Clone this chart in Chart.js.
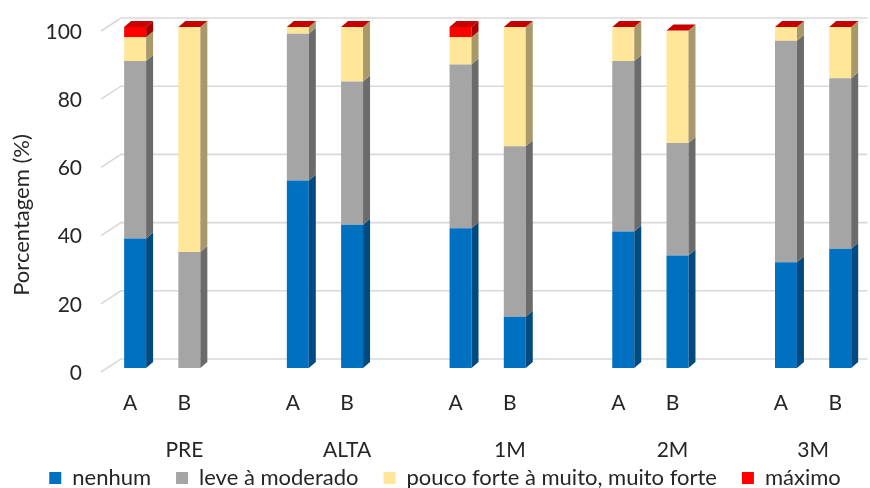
<!DOCTYPE html>
<html>
<head>
<meta charset="utf-8">
<script src="https://cdn.jsdelivr.net/npm/chart.js@4.4.1/dist/chart.umd.min.js"></script>
<style>
  html, body { margin: 0; padding: 0; background: #ffffff; }
  #wrap { width: 870px; height: 488px; }
</style>
</head>
<body>
<div id="wrap"><canvas id="chart" width="870" height="488"></canvas></div>
<script>
// Time points and the two arms measured at each one
const groups = ['PRE', 'ALTA', '1M', '2M', '3M'];
const arms = ['A', 'B'];

// Percentages per bar, ordered PRE A, PRE B, ALTA A, ALTA B, ... 3M B
const nenhum  = [38, 0, 55, 42, 41, 15, 40, 33, 31, 35];
const leve    = [52, 34, 43, 42, 48, 50, 50, 33, 65, 50];
const pouco   = [7, 66, 2, 16, 8, 35, 10, 33, 4, 15];
const maximo  = [3, 0, 0, 0, 3, 0, 0, 0, 0, 0];

const seriesNames = ['nenhum', 'leve à moderado', 'pouco forte à muito, muito forte', 'máximo'];
const yTicks = [0, 20, 40, 60, 80, 100];
const yTitle = 'Porcentagem (%)';

// Colours: front face, side face
const frontColors = ['#0070C0', '#A5A5A5', '#FFE699', '#FF0000'];
const sideColors  = ['#004A80', '#6B6B6B', '#A8996A', '#A80000'];
const topColor    = '#C80000';
const textColor   = '#262626';
const FONT = 'Lato, "Open Sans", sans-serif';

// One category slot per bar, with an empty slot between time points
const slotLabels = [];
const groupOfSlot = [];
groups.forEach((g, gi) => {
  arms.forEach(a => { slotLabels.push(a); groupOfSlot.push(gi); });
  if (gi < groups.length - 1) { slotLabels.push(''); groupOfSlot.push(-1); }
});
function spread(values) {
  const out = [];
  let k = 0;
  groupOfSlot.forEach(g => { out.push(g < 0 ? null : values[k++]); });
  return out;
}

const DX = 7, DY = 6;        // bar depth
const WX = 20, WY = 13;      // wall depth for the grid
const LABEL_SHIFT = -5;      // category captions sit slightly left of the bar fronts

const depthPlugin = {
  id: 'depth3d',
  beforeDatasetsDraw(chart) {
    const ctx = chart.ctx;
    const y = chart.scales.y;
    const area = chart.chartArea;
    ctx.save();
    ctx.strokeStyle = '#D9D9D9';
    ctx.lineWidth = 1.6;
    yTicks.forEach(v => {
      const py = y.getPixelForValue(v);
      ctx.beginPath();
      ctx.moveTo(area.left - 7, py + 4);
      ctx.lineTo(area.left - 7 + WX, py + 4 - WY);
      ctx.lineTo(area.right, py + 4 - WY);
      ctx.stroke();
    });
    ctx.restore();
  },
  afterDatasetsDraw(chart) {
    const ctx = chart.ctx;
    const n = chart.data.labels.length;
    ctx.save();
    for (let i = 0; i < n; i++) {
      let last = null;
      chart.data.datasets.forEach((ds, d) => {
        if (ds.data[i] == null) return;
        const el = chart.getDatasetMeta(d).data[i];
        const p = el.getProps(['x', 'y', 'base', 'width'], true);
        const r = p.x + p.width / 2;
        if (p.base - p.y > 0.3) {
          ctx.fillStyle = sideColors[d];
          ctx.beginPath();
          ctx.moveTo(r, p.y);
          ctx.lineTo(r + DX, p.y - DY);
          ctx.lineTo(r + DX, p.base - DY);
          ctx.lineTo(r, p.base);
          ctx.closePath();
          ctx.fill();
        }
        last = p;
      });
      if (last) {
        const l = last.x - last.width / 2, r = last.x + last.width / 2;
        ctx.fillStyle = topColor;
        ctx.beginPath();
        ctx.moveTo(l, last.y);
        ctx.lineTo(r, last.y);
        ctx.lineTo(r + DX, last.y - DY);
        ctx.lineTo(l + DX, last.y - DY);
        ctx.closePath();
        ctx.fill();
      }
    }
    ctx.restore();
  },
  afterDraw(chart) {
    const ctx = chart.ctx;
    const x = chart.scales.x;
    ctx.save();
    ctx.fillStyle = textColor;
    ctx.textAlign = 'center';
    ctx.textBaseline = 'middle';
    // time point captions: under B, or between A and B for the final group
    ctx.font = '21px ' + FONT;
    groups.forEach((g, gi) => {
      const a = x.getPixelForValue(gi * 3);
      const b = x.getPixelForValue(gi * 3 + 1);
      const cx = gi < groups.length - 1 ? b + LABEL_SHIFT : (a + b) / 2;
      ctx.fillText(g, cx, 450);
    });
    // vertical axis caption
    ctx.font = '22px ' + FONT;
    ctx.translate(22, 215);
    ctx.rotate(-Math.PI / 2);
    ctx.fillText(yTitle, 0, 0);
    ctx.restore();
  }
};

const seriesValues = [nenhum, leve, pouco, maximo];

new Chart(document.getElementById('chart'), {
  type: 'bar',
  data: {
    labels: slotLabels,
    datasets: seriesNames.map((name, d) => ({
      label: name,
      data: spread(seriesValues[d]),
      backgroundColor: frontColors[d],
      borderWidth: 0,
      categoryPercentage: 1,
      barPercentage: 0.405
    }))
  },
  options: {
    responsive: false,
    animation: false,
    layout: { padding: { top: 27, right: 0, bottom: -11, left: 20 } },
    scales: {
      x: {
        stacked: true,
        grid: { display: false, drawTicks: false },
        border: { display: false },
        ticks: { color: textColor, font: { family: FONT, size: 21 }, padding: 23, autoSkip: false, maxRotation: 0, labelOffset: LABEL_SHIFT },
        afterFit(s) { s.height = 74; }
      },
      y: {
        stacked: true,
        min: 0,
        max: 100,
        grid: { display: false, drawTicks: false },
        border: { display: false },
        ticks: { stepSize: 20, color: textColor, font: { family: FONT, size: 21 }, padding: 26, labelOffset: 5 },
        afterFit(s) { s.width = 88; s.paddingTop = 0; s.paddingBottom = 0; }
      }
    },
    plugins: {
      legend: {
        position: 'bottom',
        labels: {
          color: textColor,
          font: { family: FONT, size: 22 },
          boxWidth: 12,
          boxHeight: 12,
          padding: 25
        }
      },
      tooltip: { enabled: false }
    }
  },
  plugins: [depthPlugin]
});
</script>
</body>
</html>
